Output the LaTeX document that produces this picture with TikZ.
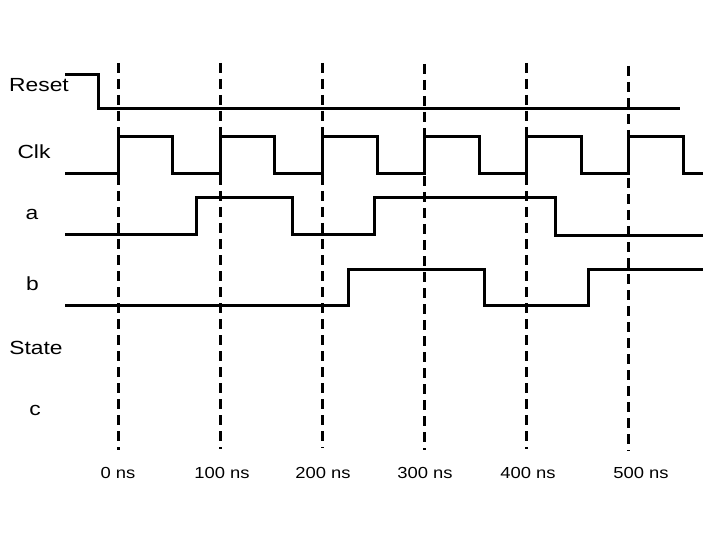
\documentclass[tikz,border=0pt]{standalone}
\usepackage{fontspec}
\setmainfont{Liberation Sans}
\begin{document}
\begin{tikzpicture}[x=1pt,y=-1pt,
 sig/.style={line width=3pt, line join=miter},
 gridline/.style={line width=3pt, dash pattern=on 10pt off 6pt},
 lbl/.style={anchor=base, inner sep=0pt, font=\fontsize{19}{21}\selectfont},
 tlbl/.style={anchor=base, inner sep=0pt, font=\fontsize{16}{18}\selectfont}]
\useasboundingbox (0,0) rectangle (720,540);
% time grid
\foreach \x/\t/\b/\n in {118/63/450/g0,220/63/449/g1,322/63/448/g2,424/64/450/g3,526/63/449/g4,628/66/451/g5}{
  \coordinate (\n t) at (\x,\t);
  \coordinate (\n b) at (\x,\b);
  \draw[gridline] (\n t) -- (\n b);
}
% labels
\node[lbl] (reset) at (39,92) {\scalebox{1.2}[1]{Reset}};
\node[lbl] (clk) at (34,159) {\scalebox{1.2}[1]{Clk}};
\node[lbl] (la) at (32,219) {\scalebox{1.2}[1]{a}};
\node[lbl] (lb) at (32.5,290.5) {\scalebox{1.2}[1]{b}};
\node[lbl] (state) at (36,354) {\scalebox{1.2}[1]{State}};
\node[lbl] (lc) at (35,415.5) {\scalebox{1.2}[1]{c}};
\node[tlbl] (t0) at (118,478) {\scalebox{1.15}[1]{0 ns}};
\node[tlbl] (t1) at (222,478) {\scalebox{1.15}[1]{100 ns}};
\node[tlbl] (t2) at (323,478) {\scalebox{1.15}[1]{200 ns}};
\node[tlbl] (t3) at (425,478) {\scalebox{1.15}[1]{300 ns}};
\node[tlbl] (t4) at (528,478) {\scalebox{1.15}[1]{400 ns}};
\node[tlbl] (t5) at (641,478) {\scalebox{1.15}[1]{500 ns}};
% waveforms
\draw[sig] (65,75) -- (98,75) -- (98,109) -- (680,109);
\draw[sig] (65,174) -- (118,174) -- (118,137) -- (172,137) -- (172,174) -- (220,174) -- (220,137) -- (274,137) -- (274,174) -- (322,174) -- (322,137) -- (377,137) -- (377,174) -- (424,174) -- (424,137) -- (479,137) -- (479,174) -- (526,174) -- (526,137) -- (581,137) -- (581,174) -- (628,174) -- (628,137) -- (683,137) -- (683,174) -- (703,174);
\draw[sig] (65,234) -- (196,234) -- (196,198) -- (292,198) -- (292,234) -- (374,234) -- (374,198) -- (555,198) -- (555,235) -- (703,235);
\draw[sig] (65,305) -- (348,305) -- (348,269) -- (484,269) -- (484,305) -- (588,305) -- (588,269) -- (703,269);
\end{tikzpicture}
\end{document}
